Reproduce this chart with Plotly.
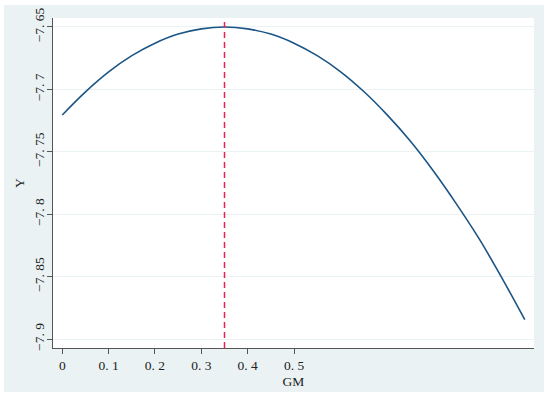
import plotly.graph_objects as go

# Data
gm = [0.0, 0.05, 0.1, 0.15, 0.2, 0.25, 0.3, 0.35, 0.4, 0.45, 0.5,
      0.55, 0.6, 0.65, 0.7, 0.75, 0.8, 0.85, 0.9, 0.95, 0.998]
y_vals = [-7.7205, -7.702, -7.686, -7.673, -7.663, -7.6557, -7.6515, -7.650,
          -7.6515, -7.6557, -7.663, -7.673, -7.6857, -7.7015, -7.720, -7.741,
          -7.765, -7.7915, -7.820, -7.852, -7.8845]
peak_gm = 0.35

x_tickvals = [0, 0.1, 0.2, 0.3, 0.4, 0.5]
x_ticktext = ["0", "0. 1", "0. 2", "0. 3", "0. 4", "0. 5"]
y_tickvals = [-7.9, -7.85, -7.8, -7.75, -7.7, -7.65]
y_ticktext = ["\u22127. 9", "\u22127. 85", "\u22127. 8", "\u22127. 75", "\u22127. 7", "\u22127. 65"]

BG = "#eaf2f3"
AXIS = "#555555"
FONT = "Liberation Serif"

fig = go.Figure()
fig.add_trace(go.Scatter(x=gm, y=y_vals, mode="lines",
                         line=dict(color="#1a5586", width=1.6, shape="spline"),
                         showlegend=False, hoverinfo="skip"))

# outer Stata-like graph region and white plot region
fig.add_shape(type="rect", xref="paper", yref="paper", x0=-0.1019, x1=1.0208,
              y0=-0.1333, y1=1.0394, fillcolor=BG, line=dict(width=0), layer="below")
fig.add_shape(type="rect", xref="paper", yref="paper", x0=0, x1=1, y0=0, y1=1,
              fillcolor="white", line=dict(width=0), layer="below")
fig.add_shape(type="line", xref="x", yref="paper", x0=peak_gm, x1=peak_gm, y0=0, y1=1,
              line=dict(color="#ee2050", width=1.5, dash="6px,4px"))

fig.update_layout(
    width=550, height=399,
    margin=dict(l=53, r=16, t=18, b=51),
    paper_bgcolor="white", plot_bgcolor="white",
    font=dict(family=FONT, size=13.5, color="#222222"),
    xaxis=dict(range=[-0.0201, 1.0179], tickvals=x_tickvals, ticktext=x_ticktext,
               showgrid=False, zeroline=False, showline=True, linecolor=AXIS, linewidth=1.2,
               ticks="outside", ticklen=5, tickcolor=AXIS, tickwidth=1.2,
               title=dict(text="GM", standoff=4, font=dict(size=13.5)),
               automargin=False),
    yaxis=dict(range=[-7.9072, -7.6428], tickvals=y_tickvals, ticktext=y_ticktext,
               showgrid=True, gridcolor=BG, gridwidth=1, zeroline=False,
               showline=True, linecolor=AXIS, linewidth=1.2,
               ticks="outside", ticklen=5, tickcolor=AXIS, tickwidth=1.2,
               tickangle=-90, ticklabelstandoff=-2,
               title=dict(text="Y", standoff=3, font=dict(size=13.5)),
               automargin=False),
)

fig.write_html("out.html", config={"displayModeBar": False},
               post_script="document.body.style.margin='0';")
